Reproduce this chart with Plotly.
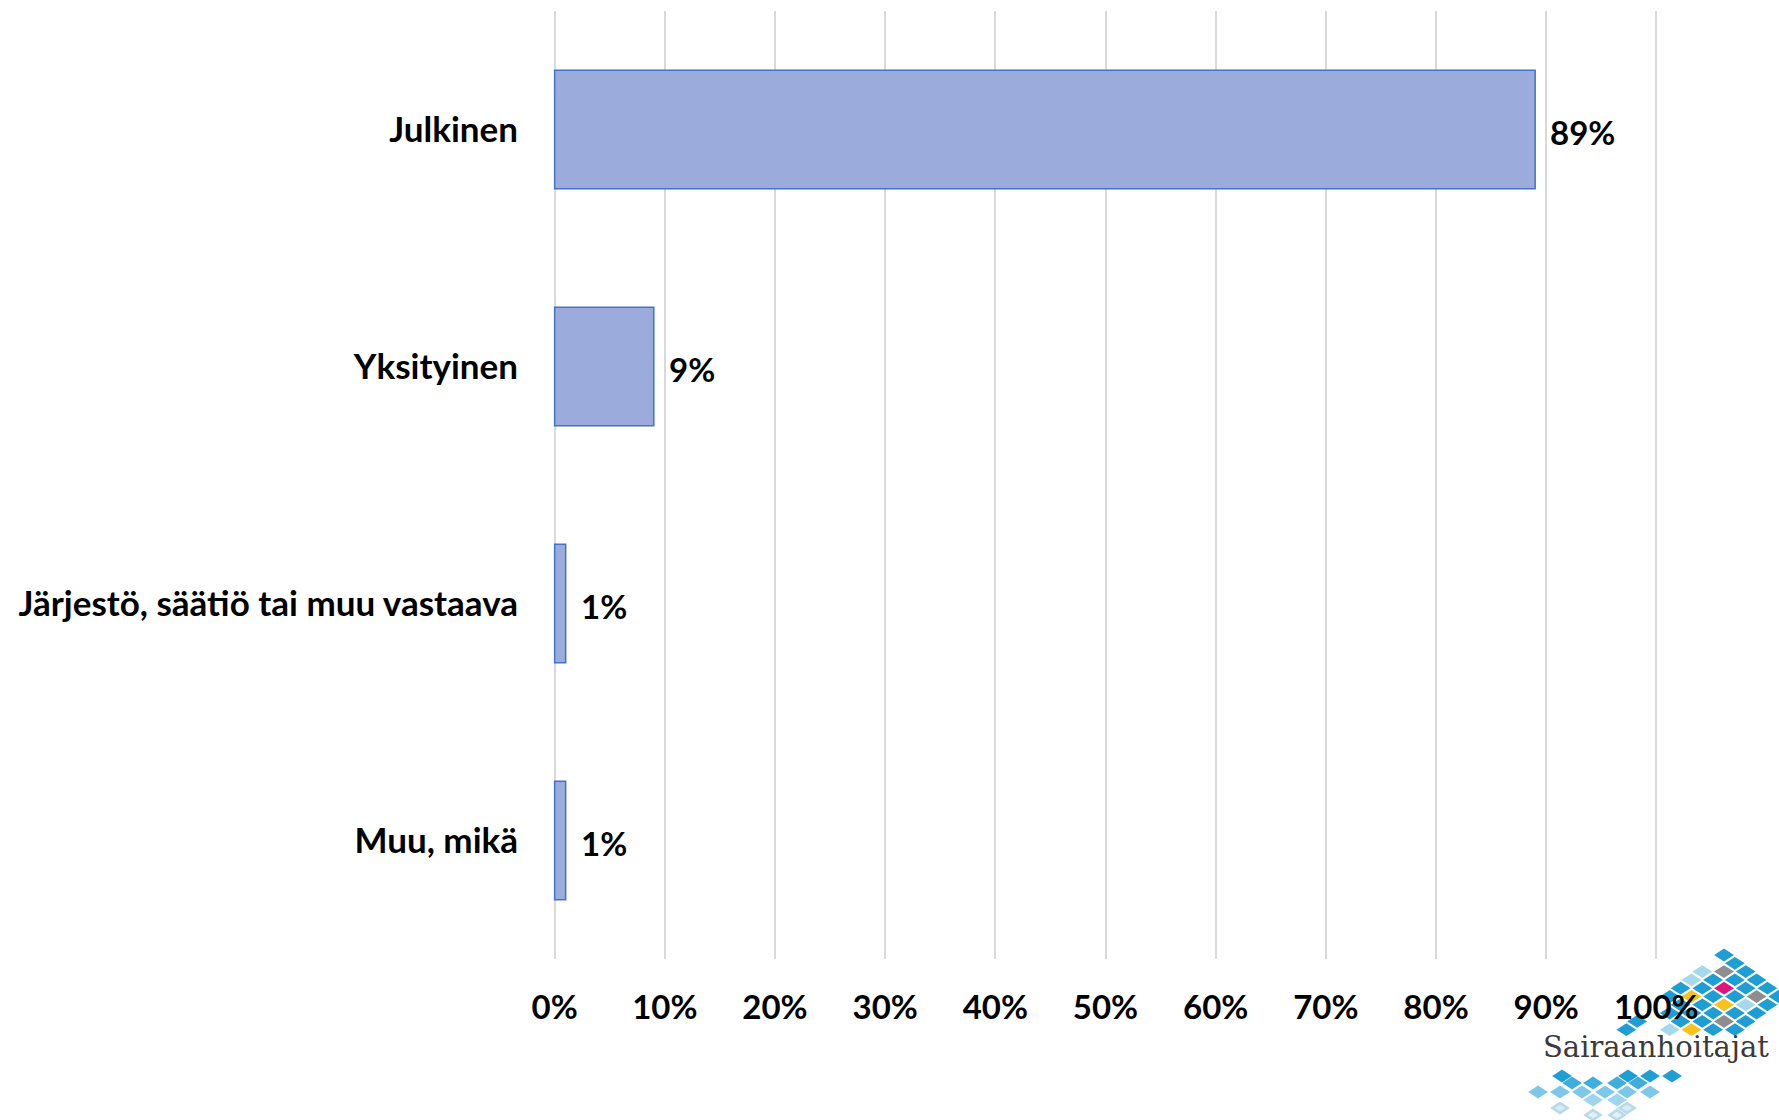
import plotly.graph_objects as go

# ---- data ----
categories = ["Julkinen", "Yksityinen", "Järjestö, säätiö tai muu vastaava", "Muu, mikä"]
shares = [0.89, 0.09, 0.01, 0.01]
tick_vals = [i / 10 for i in range(11)]
tick_text = [f"{i * 10}%" for i in range(11)]

W, H = 1779, 1120
ML, MR, MT, MB = 553, 121, 11, 161
PW, PH = W - ML - MR, H - MT - MB

FONT = "Lato"
fig = go.Figure()
fig.add_trace(go.Bar(
    y=categories, x=shares, orientation="h",
    marker=dict(color="#9AABDC", line=dict(color="#4472C4", width=1.5)),
    hoverinfo="skip",
))

annotations = []
for c, v in zip(categories, shares):
    annotations.append(dict(
        x=v, y=c, xref="x", yref="y", text=f"{round(v * 100)}%",
        showarrow=False, xanchor="left", xshift=13, yshift=-2,
        font=dict(family=FONT, size=33, color="#000000", weight="bold"),
    ))

# ---- logo (decoration) ----
def px2paper(px, py):
    return (px - ML) / PW, (H - MB - py) / PH

shapes = []
def diamond(cx, cy, color, w=7.6, h=4.9, line=None):
    pts = [(cx - w, cy), (cx, cy - h), (cx + w, cy), (cx, cy + h)]
    pp = [px2paper(x, y) for x, y in pts]
    path = "M " + " L ".join(f"{x:.5f},{y:.5f}" for x, y in pp) + " Z"
    shapes.append(dict(type="path", path=path, xref="paper", yref="paper",
                       fillcolor=color, line=dict(color=line or color, width=2.5),
                       layer="below"))

BLUE, LIGHT, GRAY, MAG, YEL = "#1F9ED3", "#A6D8EE", "#8E8E8E", "#E0157C", "#F6C21C"
special = {(1, 1): GRAY, (2, 2): MAG, (4, 1): GRAY, (1, 4): YEL, (3, 3): YEL,
           (4, 2): LIGHT, (0, 3): LIGHT, (0, 2): LIGHT, (3, 6): YEL, (2, 7): LIGHT,
           (4, 4): GRAY}
skip = {(0, 1), (1, 7), (0, 6), (0, 7), (1, 8)}
top_x, top_y, dx, dy = 1724, 955, 10.85, 8.3
for i in range(6):
    for j in range(10):
        if i + j > 9 or (i, j) in skip:
            continue
        cx = top_x + (i - j) * dx
        cy = top_y + (i + j) * dy
        diamond(cx, cy, special.get((i, j), BLUE))

lower_rows = [
    (1076, [1562, 1628, 1650, 1672], "#1F9ED3"),
    (1083, [1572, 1593, 1617, 1638], "#3FAEDC"),
    (1092, [1538, 1560, 1582, 1605, 1627, 1650], "#7DC8E8"),
    (1100, [1593, 1617], "#9ED6EF"),
    (1108, [1560, 1627], "#D2ECF8"),
    (1115, [1593, 1617], "#DDF0F9"),
]
for cy, xs, col in lower_rows:
    for cx in xs:
        diamond(cx, cy, col, line=("#B9D9E6" if cy > 1100 else None))

lx, ly = px2paper(1656, 1047)
annotations.append(dict(x=lx, y=ly, xref="paper", yref="paper", text="Sairaanhoitajat",
                        showarrow=False, xanchor="center", yanchor="middle",
                        font=dict(family="DejaVu Serif", size=29, color="#3a3a3a")))

fig.update_layout(
    width=W, height=H,
    margin=dict(l=ML, r=MR, t=MT, b=MB, pad=0),
    paper_bgcolor="white", plot_bgcolor="white",
    bargap=0.5, showlegend=False,
    annotations=annotations, shapes=shapes,
    xaxis=dict(range=[-0.0015, 1.0015], tickvals=tick_vals, ticktext=tick_text,
               showgrid=True, gridcolor="#D9D9D9", gridwidth=2,
               zeroline=False, showline=False, ticks="",
               ticklabelstandoff=26,
               tickfont=dict(family=FONT, size=33, color="#000000", weight="bold")),
    yaxis=dict(autorange="reversed", showgrid=False, zeroline=False, showline=False,
               ticks="", ticklabelstandoff=34,
               tickfont=dict(family=FONT, size=35, color="#000000", weight="bold")),
)

fig.write_html("out.html", config={"displayModeBar": False},
               post_script="document.body.style.margin='0';document.body.style.overflow='hidden';")
